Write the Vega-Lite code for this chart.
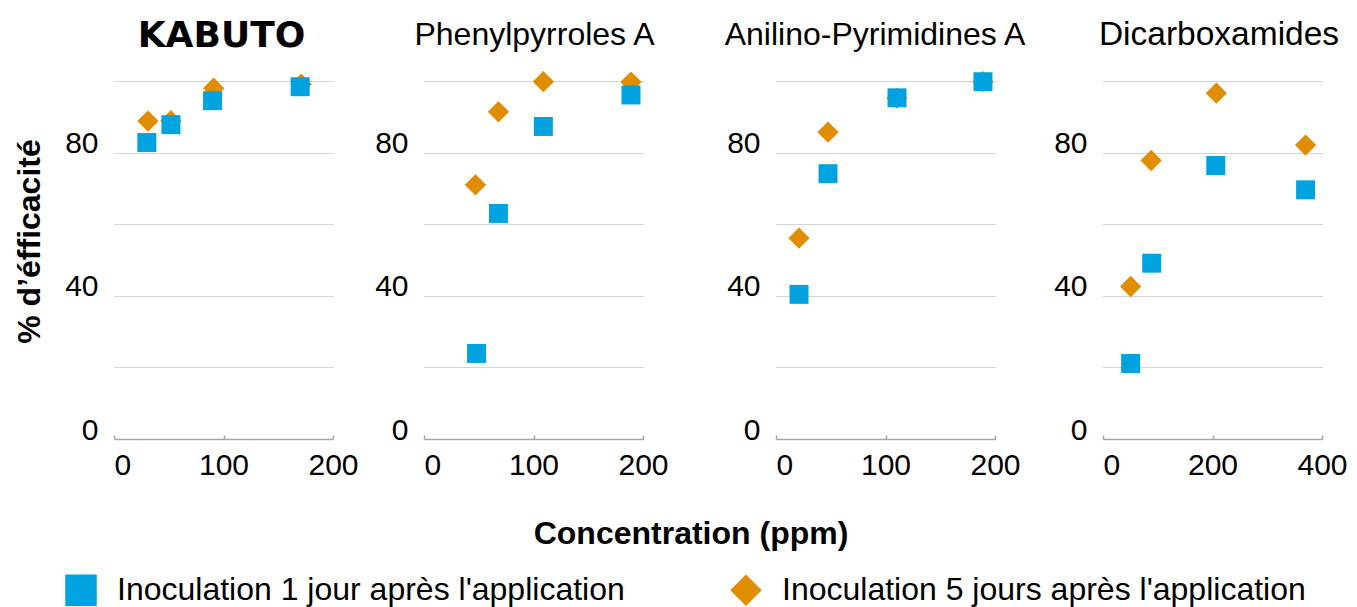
{
  "$schema": "https://vega.github.io/schema/vega-lite/v6.json",
  "padding": {"left": 13, "top": 17, "right": 3, "bottom": 0},
  "background": "white",
  "datasets": {
    "d": [
      {"panel": "KABUTO", "series": "Inoculation 1 jour après l'application", "conc": 30, "eff": 82.8},
      {"panel": "KABUTO", "series": "Inoculation 1 jour après l'application", "conc": 52, "eff": 87.8},
      {"panel": "KABUTO", "series": "Inoculation 1 jour après l'application", "conc": 90, "eff": 94.5},
      {"panel": "KABUTO", "series": "Inoculation 1 jour après l'application", "conc": 170, "eff": 98.4},
      {"panel": "KABUTO", "series": "Inoculation 5 jours après l'application", "conc": 31, "eff": 88.8},
      {"panel": "KABUTO", "series": "Inoculation 5 jours après l'application", "conc": 52, "eff": 88.9},
      {"panel": "KABUTO", "series": "Inoculation 5 jours après l'application", "conc": 91, "eff": 98},
      {"panel": "KABUTO", "series": "Inoculation 5 jours après l'application", "conc": 171, "eff": 99.1},
      {"panel": "Phenylpyrroles A", "series": "Inoculation 1 jour après l'application", "conc": 48, "eff": 23.9},
      {"panel": "Phenylpyrroles A", "series": "Inoculation 1 jour après l'application", "conc": 68, "eff": 63},
      {"panel": "Phenylpyrroles A", "series": "Inoculation 1 jour après l'application", "conc": 109, "eff": 87.3},
      {"panel": "Phenylpyrroles A", "series": "Inoculation 1 jour après l'application", "conc": 189, "eff": 96.1},
      {"panel": "Phenylpyrroles A", "series": "Inoculation 5 jours après l'application", "conc": 47, "eff": 71},
      {"panel": "Phenylpyrroles A", "series": "Inoculation 5 jours après l'application", "conc": 68, "eff": 91.4},
      {"panel": "Phenylpyrroles A", "series": "Inoculation 5 jours après l'application", "conc": 109, "eff": 99.8},
      {"panel": "Phenylpyrroles A", "series": "Inoculation 5 jours après l'application", "conc": 189, "eff": 99.7},
      {"panel": "Anilino-Pyrimidines A", "series": "Inoculation 1 jour après l'application", "conc": 21, "eff": 40.4},
      {"panel": "Anilino-Pyrimidines A", "series": "Inoculation 1 jour après l'application", "conc": 47.5, "eff": 74.1},
      {"panel": "Anilino-Pyrimidines A", "series": "Inoculation 1 jour après l'application", "conc": 110.5, "eff": 95.3},
      {"panel": "Anilino-Pyrimidines A", "series": "Inoculation 1 jour après l'application", "conc": 189, "eff": 99.8},
      {"panel": "Anilino-Pyrimidines A", "series": "Inoculation 5 jours après l'application", "conc": 21, "eff": 56.1},
      {"panel": "Anilino-Pyrimidines A", "series": "Inoculation 5 jours après l'application", "conc": 47.5, "eff": 85.7},
      {"panel": "Anilino-Pyrimidines A", "series": "Inoculation 5 jours après l'application", "conc": 110.5, "eff": 95.2},
      {"panel": "Anilino-Pyrimidines A", "series": "Inoculation 5 jours après l'application", "conc": 189, "eff": 99.8},
      {"panel": "Dicarboxamides", "series": "Inoculation 1 jour après l'application", "conc": 50.5, "eff": 21.1},
      {"panel": "Dicarboxamides", "series": "Inoculation 1 jour après l'application", "conc": 89, "eff": 49.1},
      {"panel": "Dicarboxamides", "series": "Inoculation 1 jour après l'application", "conc": 206, "eff": 76.4},
      {"panel": "Dicarboxamides", "series": "Inoculation 1 jour après l'application", "conc": 370, "eff": 69.6},
      {"panel": "Dicarboxamides", "series": "Inoculation 5 jours après l'application", "conc": 50.5, "eff": 42.6},
      {"panel": "Dicarboxamides", "series": "Inoculation 5 jours après l'application", "conc": 88, "eff": 77.8},
      {"panel": "Dicarboxamides", "series": "Inoculation 5 jours après l'application", "conc": 207, "eff": 96.6},
      {"panel": "Dicarboxamides", "series": "Inoculation 5 jours après l'application", "conc": 370, "eff": 82.1}
    ]
  },
  "data": {"name": "d"},
  "vconcat": [
    {
      "spacing": 10,
      "title": {"text": "Concentration (ppm)", "orient": "bottom", "anchor": "middle", "fontSize": 32, "fontWeight": "bold", "baseline": "alphabetic", "offset": 64, "dx": 11, "color": "#000000", "font": "Liberation Sans"},
      "hconcat": [
        {
          "width": 219, "height": 358,
          "transform": [{"filter": {"field": "panel", "equal": "KABUTO"}}],
          "encoding": {
            "y": {"field": "eff", "type": "quantitative", "scale": {"domain": [0, 100], "nice": false},
              "axis": {"values": [0, 20, 40, 60, 80, 100], "labelExpr": "datum.value % 40 === 0 ? datum.label : ''", "title": "% d’éfficacité", "titleFontWeight": "bold", "titleFontSize": 32, "titleX": -75, "titleY": 160, "titleBaseline": "alphabetic", "titleAngle": 270, "titleAlign": "center"}},
            "color": {"field": "series", "type": "nominal", "title": null,
              "scale": {"domain": ["Inoculation 1 jour après l'application", "Inoculation 5 jours après l'application"], "range": ["#00A3E0", "#E08D00"]}},
            "shape": {"field": "series", "type": "nominal", "title": null,
              "scale": {"domain": ["Inoculation 1 jour après l'application", "Inoculation 5 jours après l'application"], "range": ["square", "diamond"]}}
          },
          "layer": [
            {
              "transform": [{"filter": {"field": "series", "equal": "Inoculation 5 jours après l'application"}}],
              "mark": {"type": "point", "filled": true, "opacity": 1, "size": 454},
              "encoding": {"x": {"field": "conc", "type": "quantitative", "scale": {"domain": [0, 200], "nice": false},
                "axis": {"orient": "top", "title": "KABUTO", "labels": false, "ticks": false, "domain": false, "grid": false, "titleFont": "DejaVu Sans", "titleFontWeight": "bold", "titleFontSize": 36, "titlePadding": 35, "titleBaseline": "alphabetic", "titleX": 107, "titleAlign": "center"}}}
            },
            {
              "transform": [{"filter": {"field": "series", "equal": "Inoculation 1 jour après l'application"}}],
              "mark": {"type": "point", "filled": true, "opacity": 1, "size": 360},
              "encoding": {"x": {"field": "conc", "type": "quantitative", "scale": {"domain": [0, 200], "nice": false},
                "axis": {"orient": "bottom", "title": null, "values": [0, 100, 200], "labelAlign": {"condition": {"test": "datum.value === 0", "value": "left"}, "value": "center"}}}}
            }
          ]
        },
        {
          "width": 219, "height": 358,
          "transform": [{"filter": {"field": "panel", "equal": "Phenylpyrroles A"}}],
          "encoding": {
            "y": {"field": "eff", "type": "quantitative", "scale": {"domain": [0, 100], "nice": false},
              "axis": {"values": [0, 20, 40, 60, 80, 100], "labelExpr": "datum.value % 40 === 0 ? datum.label : ''", "title": null, "minExtent": 55, "maxExtent": 55}},
            "color": {"field": "series", "type": "nominal", "title": null,
              "scale": {"domain": ["Inoculation 1 jour après l'application", "Inoculation 5 jours après l'application"], "range": ["#00A3E0", "#E08D00"]}},
            "shape": {"field": "series", "type": "nominal", "title": null,
              "scale": {"domain": ["Inoculation 1 jour après l'application", "Inoculation 5 jours après l'application"], "range": ["square", "diamond"]}}
          },
          "layer": [
            {
              "transform": [{"filter": {"field": "series", "equal": "Inoculation 5 jours après l'application"}}],
              "mark": {"type": "point", "filled": true, "opacity": 1, "size": 454},
              "encoding": {"x": {"field": "conc", "type": "quantitative", "scale": {"domain": [0, 200], "nice": false},
                "axis": {"orient": "top", "title": "Phenylpyrroles A", "labels": false, "ticks": false, "domain": false, "grid": false, "titleFontSize": 32, "titlePadding": 37, "titleBaseline": "alphabetic", "titleX": 110, "titleAlign": "center"}}}
            },
            {
              "transform": [{"filter": {"field": "series", "equal": "Inoculation 1 jour après l'application"}}],
              "mark": {"type": "point", "filled": true, "opacity": 1, "size": 360},
              "encoding": {"x": {"field": "conc", "type": "quantitative", "scale": {"domain": [0, 200], "nice": false},
                "axis": {"orient": "bottom", "title": null, "values": [0, 100, 200], "labelAlign": {"condition": {"test": "datum.value === 0", "value": "left"}, "value": "center"}}}}
            }
          ]
        },
        {
          "width": 219, "height": 358,
          "transform": [{"filter": {"field": "panel", "equal": "Anilino-Pyrimidines A"}}],
          "encoding": {
            "y": {"field": "eff", "type": "quantitative", "scale": {"domain": [0, 100], "nice": false},
              "axis": {"values": [0, 20, 40, 60, 80, 100], "labelExpr": "datum.value % 40 === 0 ? datum.label : ''", "title": null, "minExtent": 96.5, "maxExtent": 96.5}},
            "color": {"field": "series", "type": "nominal", "title": null,
              "scale": {"domain": ["Inoculation 1 jour après l'application", "Inoculation 5 jours après l'application"], "range": ["#00A3E0", "#E08D00"]}},
            "shape": {"field": "series", "type": "nominal", "title": null,
              "scale": {"domain": ["Inoculation 1 jour après l'application", "Inoculation 5 jours après l'application"], "range": ["square", "diamond"]}}
          },
          "layer": [
            {
              "transform": [{"filter": {"field": "series", "equal": "Inoculation 5 jours après l'application"}}],
              "mark": {"type": "point", "filled": true, "opacity": 1, "size": 454},
              "encoding": {"x": {"field": "conc", "type": "quantitative", "scale": {"domain": [0, 200], "nice": false},
                "axis": {"orient": "top", "title": "Anilino-Pyrimidines A", "labels": false, "ticks": false, "domain": false, "grid": false, "titleFontSize": 32, "titlePadding": 37, "titleBaseline": "alphabetic", "titleX": 98.5, "titleAlign": "center"}}}
            },
            {
              "transform": [{"filter": {"field": "series", "equal": "Inoculation 1 jour après l'application"}}],
              "mark": {"type": "point", "filled": true, "opacity": 1, "size": 360},
              "encoding": {"x": {"field": "conc", "type": "quantitative", "scale": {"domain": [0, 200], "nice": false},
                "axis": {"orient": "bottom", "title": null, "values": [0, 100, 200], "labelAlign": {"condition": {"test": "datum.value === 0", "value": "left"}, "value": "center"}}}}
            }
          ]
        },
        {
          "width": 219, "height": 358,
          "transform": [{"filter": {"field": "panel", "equal": "Dicarboxamides"}}],
          "encoding": {
            "y": {"field": "eff", "type": "quantitative", "scale": {"domain": [0, 100], "nice": false},
              "axis": {"values": [0, 20, 40, 60, 80, 100], "labelExpr": "datum.value % 40 === 0 ? datum.label : ''", "title": null, "minExtent": 67, "maxExtent": 67}},
            "color": {"field": "series", "type": "nominal", "title": null,
              "scale": {"domain": ["Inoculation 1 jour après l'application", "Inoculation 5 jours après l'application"], "range": ["#00A3E0", "#E08D00"]}},
            "shape": {"field": "series", "type": "nominal", "title": null,
              "scale": {"domain": ["Inoculation 1 jour après l'application", "Inoculation 5 jours après l'application"], "range": ["square", "diamond"]}}
          },
          "layer": [
            {
              "transform": [{"filter": {"field": "series", "equal": "Inoculation 5 jours après l'application"}}],
              "mark": {"type": "point", "filled": true, "opacity": 1, "size": 454},
              "encoding": {"x": {"field": "conc", "type": "quantitative", "scale": {"domain": [0, 400], "nice": false},
                "axis": {"orient": "top", "title": "Dicarboxamides", "labels": false, "ticks": false, "domain": false, "grid": false, "titleFontSize": 33.5, "titlePadding": 37, "titleBaseline": "alphabetic", "titleX": 115.5, "titleAlign": "center"}}}
            },
            {
              "transform": [{"filter": {"field": "series", "equal": "Inoculation 1 jour après l'application"}}],
              "mark": {"type": "point", "filled": true, "opacity": 1, "size": 360},
              "encoding": {"x": {"field": "conc", "type": "quantitative", "scale": {"domain": [0, 400], "nice": false},
                "axis": {"orient": "bottom", "title": null, "values": [0, 200, 400], "labelAlign": {"condition": {"test": "datum.value === 0", "value": "left"}, "value": "center"}}}}
            }
          ]
        }
      ]
    }
  ],
  "config": {
    "font": "Liberation Sans",
    "view": {"stroke": null},
    "axis": {"labelColor": "#000000", "titleColor": "#000000", "labelFontSize": 30, "titleFontSize": 32, "titleFontWeight": "normal", "labelFont": "Liberation Sans", "titleFont": "Liberation Sans"},
    "axisX": {"domainColor": "#a6a6a6", "domainWidth": 1.5, "tickColor": "#a6a6a6", "tickSize": -4, "tickWidth": 1.5, "labelPadding": 15, "labelFlush": false, "grid": false, "minExtent": 0},
    "axisY": {"grid": true, "gridColor": "#a8a8a8", "gridDash": [1, 1], "gridWidth": 1, "domain": false, "ticks": false, "labelPadding": 16, "labelBaseline": "alphabetic"},
    "legend": {"orient": "none", "legendX": -49, "legendY": 493.3, "direction": "horizontal", "labelFontSize": 32, "labelFont": "Liberation Sans", "labelColor": "#000000", "labelLimit": 1000, "symbolSize": 992, "symbolStrokeWidth": 0, "symbolOpacity": 1, "labelOffset": 20, "columnPadding": 105, "padding": 0}
  }
}
